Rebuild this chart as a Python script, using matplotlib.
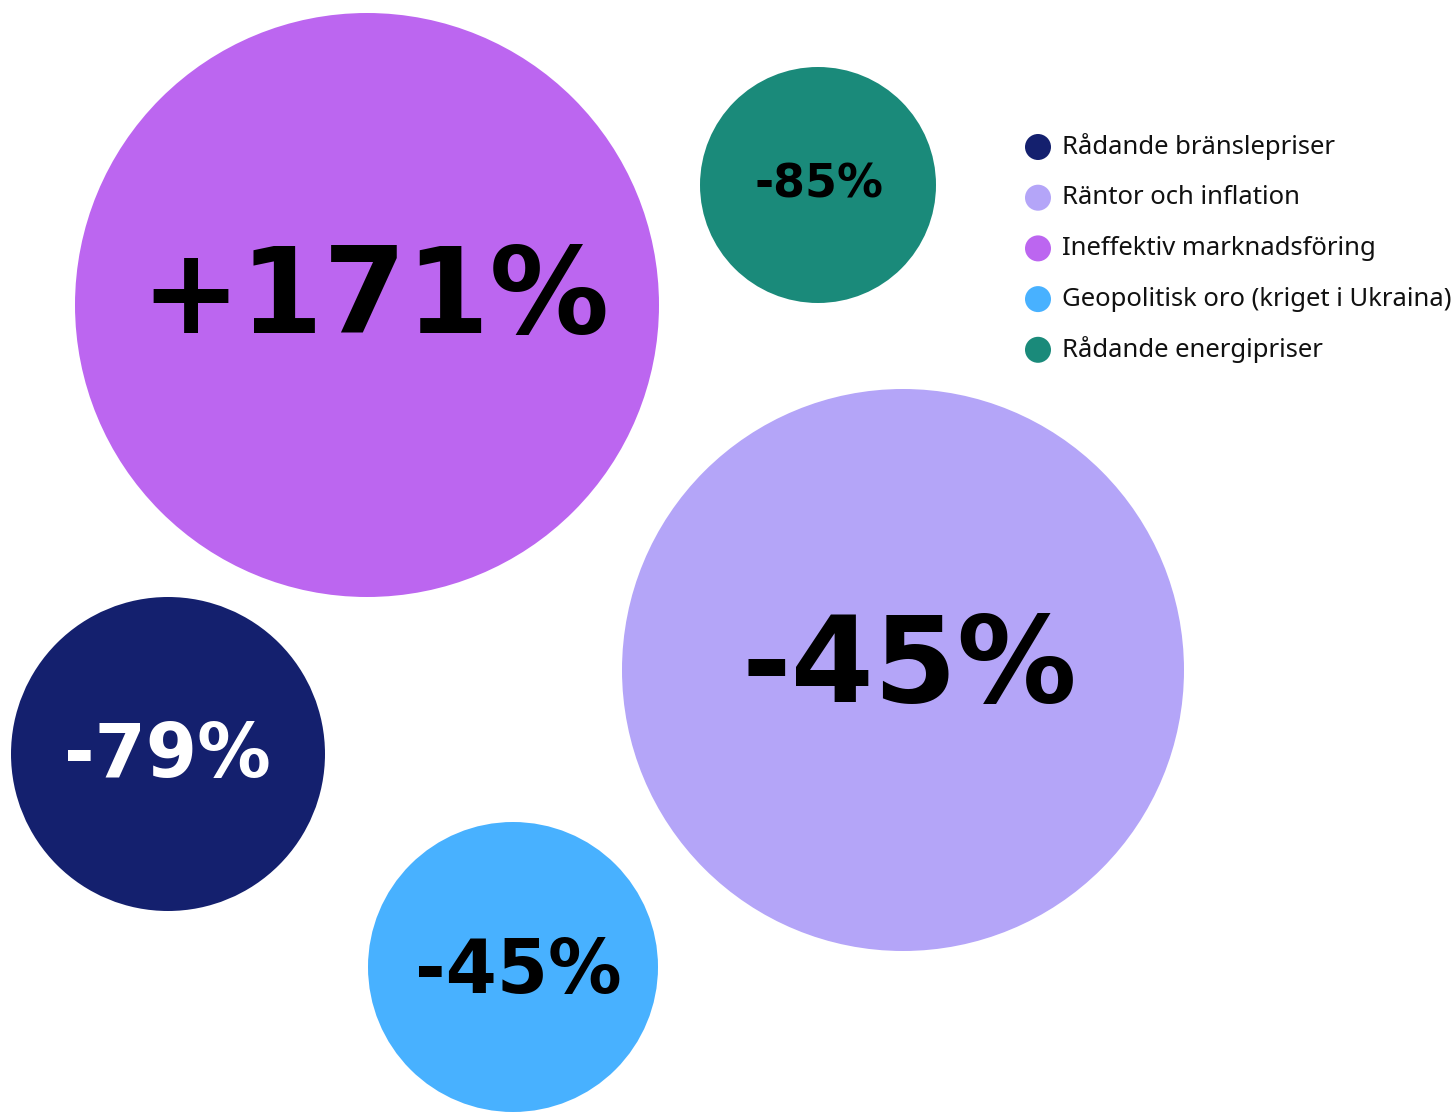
import matplotlib.pyplot as plt
from matplotlib.patches import Circle

categories = ["Rådande bränslepriser", "Räntor och inflation", "Ineffektiv marknadsföring",
              "Geopolitisk oro (kriget i Ukraina)", "Rådande energipriser"]
labels = ["-79%", "-45%", "+171%", "-45%", "-85%"]
bubble_size = [157, 281, 292, 145, 118]
colors = ["#14206E", "#B4A5F8", "#BC66F0", "#48B1FF", "#1A8A7A"]

# layout in pixel coordinates
centers = [(168, 754), (903, 670), (367, 305), (513, 967), (818, 185)]
label_pos = [(167, 777), (909, 702), (375, 333), (518, 993), (819, 198)]
font_sizes = [53, 86, 86, 53, 33]
text_colors = ["white", "black", "black", "black", "black"]

fig = plt.figure(figsize=(14.55, 11.13), dpi=100)
ax = fig.add_axes([0, 0, 1, 1])
ax.set_xlim(0, 1455)
ax.set_ylim(1113, 0)
ax.set_aspect("equal")
ax.axis("off")

for (cx, cy), r, c, (tx, ty), lab, fs, tc in zip(centers, bubble_size, colors, label_pos,
                                                  labels, font_sizes, text_colors):
    ax.add_patch(Circle((cx, cy), r, color=c, lw=0))
    ax.text(tx, ty, lab, ha="center", va="baseline", fontsize=fs,
            fontweight="bold", family="DejaVu Sans", color=tc)

for i, (name, c) in enumerate(zip(categories, colors)):
    y = 147 + i * 50.7
    ax.add_patch(Circle((1038, y), 13, color=c, lw=0))
    ax.text(1062, y, name, ha="left", va="center", fontsize=18.5,
            family="Noto Sans", color="#111111")

fig.savefig("out.png", dpi=100)
